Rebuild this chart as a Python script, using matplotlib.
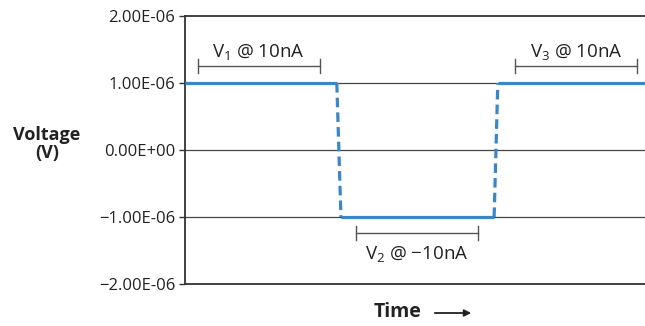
import matplotlib
matplotlib.use("Agg")
import matplotlib.pyplot as plt

plt.rcParams['font.family'] = ['Open Sans', 'DejaVu Sans']

# Data
high1_t = [0, 33.0]
high1_v = [1e-6, 1e-6]
fall_t = [33.0, 33.9]
fall_v = [1e-6, -1e-6]
low_t = [33.9, 67.2]
low_v = [-1e-6, -1e-6]
rise_t = [67.2, 68.0]
rise_v = [-1e-6, 1e-6]
high2_t = [68.0, 100]
high2_v = [1e-6, 1e-6]

yticks = [2e-6, 1e-6, 0, -1e-6, -2e-6]
ytick_labels = ["2.00E-06", "1.00E-06", "0.00E+00", "\u22121.00E-06", "\u22122.00E-06"]

brackets = [
    ("V$_1$ @ 10nA", 2.8, 29.3, 1.254e-6, 1.47e-6),
    ("V$_3$ @ 10nA", 71.7, 98.3, 1.254e-6, 1.47e-6),
    ("V$_2$ @ \u221210nA", 37.2, 63.7, -1.239e-6, -1.55e-6),
]

blue = "#3a86c8"
gray = "#555555"
dark = "#333333"

plt.rcParams['mathtext.fontset'] = 'custom'
plt.rcParams['mathtext.rm'] = 'Open Sans'
plt.rcParams['mathtext.it'] = 'Open Sans'

fig = plt.figure(figsize=(6.45, 3.26), dpi=100)
ax = fig.add_axes([185/645, 42/326, 1 - 185/645, (284-16)/326])

ax.set_xlim(0, 100)
ax.set_ylim(-2e-6, 2e-6)

for v in [1e-6, 0, -1e-6]:
    ax.axhline(v, color="#444444", lw=0.9, zorder=1)

ax.plot(high1_t, high1_v, color=blue, lw=2.3, solid_capstyle='butt', zorder=3)
ax.plot(low_t, low_v, color=blue, lw=2.3, solid_capstyle='butt', zorder=3)
ax.plot(high2_t, high2_v, color=blue, lw=2.3, solid_capstyle='butt', zorder=3)
ax.plot(fall_t, fall_v, color=blue, lw=2.3, linestyle=(0, (3, 1.6)), zorder=3)
ax.plot(rise_t, rise_v, color=blue, lw=2.3, linestyle=(0, (3, 1.6)), zorder=3)

for label, x0, x1, yb, yt in brackets:
    ax.plot([x0, x1], [yb, yb], color=gray, lw=1.0, zorder=2)
    h = 0.11e-6
    ax.plot([x0, x0], [yb - h, yb + h], color=gray, lw=1.0, zorder=2)
    ax.plot([x1, x1], [yb - h, yb + h], color=gray, lw=1.0, zorder=2)
    ax.text((x0 + x1) / 2, yt, label, ha='center', va='center', fontsize=13.5, color="#222222")

ax.set_yticks(yticks)
ax.set_yticklabels(ytick_labels, fontsize=12, color="#222222")
ax.set_xticks([])
ax.tick_params(axis='y', length=4, width=1, color=dark, pad=3)

for s in ['left', 'top', 'bottom']:
    ax.spines[s].set_color(dark)
    ax.spines[s].set_linewidth(1.3)
ax.spines['right'].set_visible(False)

fig.text(47/645, 1 - 144/326, "Voltage\n(V)", ha='center', va='center', fontsize=13,
         fontweight='bold', color="#222222", linespacing=0.95)
fig.text(398/645, 1 - 312/326, "Time", ha='center', va='center', fontsize=14,
         fontweight='bold', color="#222222")
fig.add_artist(matplotlib.patches.FancyArrowPatch((432/645, 1 - 313/326), (474/645, 1 - 313/326),
               transform=fig.transFigure, arrowstyle='-|>', mutation_scale=10,
               color="#222222", lw=1.3))

fig.savefig("out.png", dpi=100)
